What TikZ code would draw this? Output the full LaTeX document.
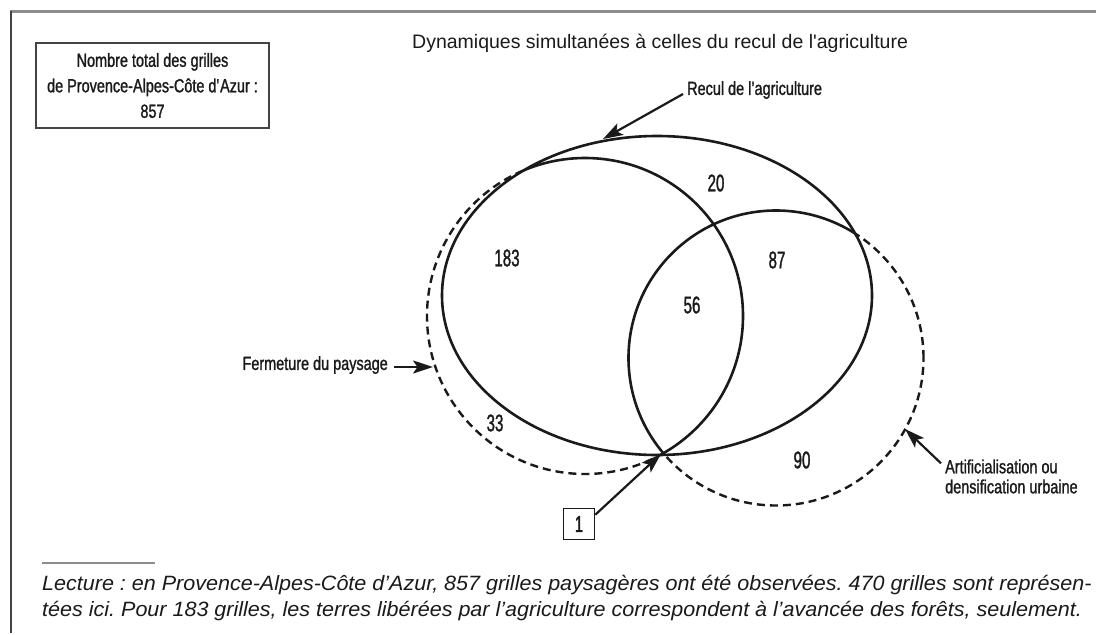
\documentclass[tikz,border=0pt]{standalone}
\usepackage{fontspec}
\setmainfont{Liberation Sans}
\newfontfamily\condfont[FakeStretch=0.76,FakeBold=1.2]{Liberation Sans}
\newfontfamily\numfont[FakeStretch=0.63,FakeBold=1.2]{Liberation Sans}
\newfontfamily\lecfont[FakeStretch=1.04]{Liberation Sans}
\usetikzlibrary{arrows.meta}
\definecolor{ink}{HTML}{1A1A1A}
\definecolor{framegray}{HTML}{8C8C8C}
\definecolor{edgegray}{HTML}{444444}
\frenchspacing
\begin{document}
\begin{tikzpicture}[x=1pt,y=-1pt,
  lab/.style={font=\condfont\fontsize{19}{20}\selectfont, text=ink, inner sep=0pt},
  num/.style={font=\numfont\fontsize{24}{26}\selectfont, text=ink, inner sep=0pt},
  arr/.style={draw=ink, line width=2.2pt, -{Stealth[length=20pt,width=13pt,inset=4.5pt]}},
  setline/.style={draw=ink, line width=2.6pt},
  dashline/.style={draw=ink, line width=2.4pt, dash pattern=on 8pt off 5pt},
  lecture/.style={font=\lecfont\itshape\fontsize{20.7}{22}\selectfont, text=ink, anchor=west, inner sep=0pt}]
\useasboundingbox (0,0) rectangle (1096,635);
\fill[white] (0,0) rectangle (1096,635);
% frame
\draw[framegray, line width=3pt] (10,11) -- (1096,11);
\draw[edgegray, line width=1.6pt] (11,11) -- (11,633);
% title
\node[font=\fontsize{19.5}{22}\selectfont, text=ink, anchor=west, inner sep=0pt] (title) at (412,43) {Dynamiques simultanées à celles du recul de l\textquotesingle agriculture};
% total box
\node[draw=edgegray, line width=1.4pt, minimum width=233pt, minimum height=85pt, inner sep=0pt, align=center, text=ink, font=\condfont\fontsize{19}{25.5}\selectfont] (total) at (152.5,85.5) {Nombre total des grilles\\de Provence-Alpes-Côte d\textquotesingle Azur :\\857};
% sets
\coordinate (rc) at (657,295.5);
\coordinate (fc) at (585,316);
\coordinate (ac) at (776,358);
\draw[setline] (rc) ellipse [x radius=215pt, y radius=159.5pt];
\begin{scope}
  \clip (rc) ellipse [x radius=215pt, y radius=159.5pt];
  \draw[setline] (fc) circle [radius=158pt];
  \draw[setline] (ac) circle [radius=147.5pt];
\end{scope}
\begin{scope}[even odd rule]
  \clip (0,0) rectangle (1096,635) (rc) ellipse [x radius=215pt, y radius=159.5pt];
  \draw[dashline] (fc) circle [radius=158pt];
  \draw[dashline] (ac) circle [radius=147.5pt];
\end{scope}
% numbers
\node[num] (n20) at (716,183) {20};
\node[num] (n183) at (507,258) {183};
\node[num] (n87) at (777,260) {87};
\node[num] (n56) at (692,305) {56};
\node[num] (n33) at (495,423) {33};
\node[num] (n90) at (802,460) {90};
% labels and arrows
\node[lab, anchor=west] (recul) at (687,90) {Recul de l’agriculture};
\coordinate (t1) at (603,139);
\draw[arr] ([xshift=-4pt,yshift=-4pt]recul.west) -- (t1);
\node[lab, anchor=east] (ferm) at (388,365) {Fermeture du paysage};
\coordinate (t2) at (433,367);
\draw[arr] ([xshift=6pt,yshift=-2pt]ferm.east) -- (t2);
\node[lab, anchor=west, align=left] (artif) at (945,476.5) {Artificialisation ou\\densification urbaine};
\coordinate (t3) at (905,429);
\draw[arr] ([xshift=-4pt,yshift=-4pt]artif.north west) -- (t3);
\node[draw=ink, line width=1.6pt, minimum width=31pt, minimum height=31pt, inner sep=0pt, text=ink, font=\numfont\fontsize{23}{24}\selectfont] (one) at (579,524) {1};
\coordinate (t4) at (661,454);
\draw[arr] ([yshift=-7pt]one.north east) -- (t4);
% reading note
\draw[framegray, line width=1.3pt] (42,563) -- (155,563);
\node[lecture] (lec1) at (42,585) {Lecture : en Provence-Alpes-Côte d’Azur, 857 grilles paysagères ont été observées. 470 grilles sont représen-};
\node[lecture] (lec2) at (42,611) {tées ici. Pour 183 grilles, les terres libérées par l’agriculture correspondent à l’avancée des forêts, seulement.};
\end{tikzpicture}
\end{document}
